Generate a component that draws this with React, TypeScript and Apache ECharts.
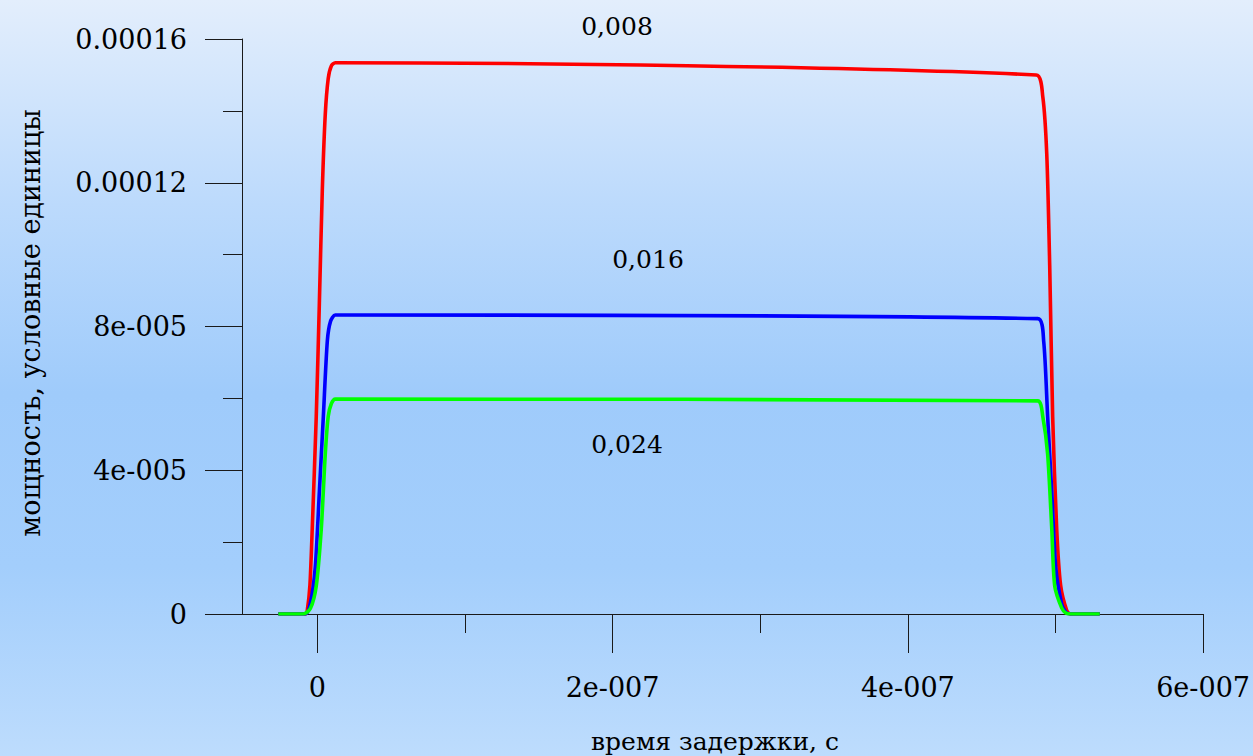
import React, { useEffect, useRef } from "react";
import * as echarts from "echarts";

// time, seconds
const redTime = [-2.64e-8, -8.0e-9, -6.8e-9, -5.0e-9, -3.4e-9, -0.7e-9, 1.4e-9, 3.4e-9, 5.4e-9, 7.4e-9, 9.5e-9, 1.22e-8, 4.87e-7, 4.914e-7, 4.941e-7, 4.961e-7, 4.981e-7, 5.008e-7, 5.035e-7, 5.076e-7, 5.1e-7, 5.3e-7];
const redPower = [0, 0, 0.1e-5, 0.8e-5, 2.4e-5, 5.5e-5, 8.65e-5, 11.8e-5, 13.9e-5, 14.9e-5, 15.25e-5, 15.34e-5, 15.0e-5, 14.4e-5, 12.8e-5, 9.7e-5, 5.5e-5, 2.4e-5, 0.8e-5, 0.1e-5, 0, 0];

const blueTime = [-2.64e-8, -8.0e-9, -4.7e-9, -1.4e-9, 1.4e-9, 4.1e-9, 6.8e-9, 9.0e-9, 1.22e-8, 4.88e-7, 4.92e-7, 4.947e-7, 4.975e-7, 5.002e-7, 5.042e-7, 5.07e-7, 5.1e-7, 5.3e-7];
const bluePower = [0, 0, 0.3e-5, 1.3e-5, 3.4e-5, 5.5e-5, 7.6e-5, 8.15e-5, 8.32e-5, 8.22e-5, 7.6e-5, 5.5e-5, 3.4e-5, 1.3e-5, 0.28e-5, 0.05e-5, 0, 0];

const greenTime = [-2.64e-8, -9.5e-9, -4.7e-9, -0.7e-9, 2.7e-9, 5.4e-9, 7.4e-9, 9.5e-9, 1.22e-8, 4.88e-7, 4.914e-7, 4.947e-7, 4.975e-7, 4.995e-7, 5.042e-7, 5.07e-7, 5.1e-7, 5.3e-7];
const greenPower = [0, 0, 0.15e-5, 0.78e-5, 2.37e-5, 4.45e-5, 5.5e-5, 5.85e-5, 5.98e-5, 5.93e-5, 5.5e-5, 4.45e-5, 2.37e-5, 0.78e-5, 0.17e-5, 0.03e-5, 0, 0];

const xMajorTicks = [0, 2e-7, 4e-7, 6e-7];
const xMajorLabels = ["0", "2e-007", "4e-007", "6e-007"];
const xMinorTicks = [1e-7, 3e-7, 5e-7];
const yTickLabels = ["0", "4e-005", "8e-005", "0.00012", "0.00016"];

const seriesNames = ["0,008", "0,016", "0,024"];
const xTitle = "время задержки, с";
const yTitle = "мощность, условные единицы";

const FONT = "DejaVu Serif";
const FS = 27;

function pairs(t: number[], v: number[]) {
  return t.map((x, i) => [x, v[i]]);
}

function label(text: string, x: number, y: number, size: number, rotation = 0) {
  return {
    type: "text",
    x,
    y,
    rotation,
    style: { text, fontFamily: FONT, fontSize: size, fill: "#000", align: "center", verticalAlign: "middle" },
  };
}

export default function App() {
  const ref = useRef<HTMLDivElement>(null);
  useEffect(() => {
    document.body.style.margin = "0";
    const chart = echarts.init(ref.current!, null, { renderer: "svg" });
    const axisColor = "#1a1a1a";
    chart.setOption({
      animation: false,
      textStyle: { fontFamily: FONT },
      backgroundColor: new echarts.graphic.LinearGradient(0, 0, 0, 1, [
        { offset: 0, color: "#e3eefc" },
        { offset: 0.27, color: "#bcdafc" },
        { offset: 0.52, color: "#9fcbfb" },
        { offset: 0.75, color: "#a3cefc" },
        { offset: 1, color: "#bddcfd" },
      ]),
      grid: { left: 242, top: 39, right: 48, bottom: 142, containLabel: false },
      xAxis: [
        {
          type: "value",
          min: -5.1e-8,
          max: 6e-7,
          axisLine: { show: true, onZero: false, lineStyle: { color: axisColor, width: 1 } },
          axisTick: { show: true, length: 39, customValues: xMajorTicks, lineStyle: { color: axisColor } },
          axisLabel: {
            show: true,
            customValues: xMajorTicks,
            margin: 60,
            color: "#000",
            fontFamily: FONT,
            fontSize: FS,
            formatter: (v: number) => {
              const i = xMajorTicks.findIndex((t) => Math.abs(t - v) < 1e-12);
              return i >= 0 ? xMajorLabels[i] : "";
            },
          },
          splitLine: { show: false },
        },
        {
          type: "value",
          min: -5.1e-8,
          max: 6e-7,
          position: "bottom",
          axisLine: { show: false, onZero: false },
          axisTick: { show: true, length: 19, customValues: xMinorTicks, lineStyle: { color: axisColor } },
          axisLabel: { show: false },
          splitLine: { show: false },
        },
      ],
      yAxis: {
        type: "value",
        min: 0,
        max: 1.6e-4,
        interval: 4e-5,
        axisLine: { show: true, onZero: false, lineStyle: { color: axisColor, width: 1 } },
        axisTick: { show: true, length: 37, lineStyle: { color: axisColor } },
        minorTick: { show: true, splitNumber: 2, length: 19, lineStyle: { color: axisColor } },
        axisLabel: {
          margin: 55,
          color: "#000",
          fontFamily: FONT,
          fontSize: FS,
          formatter: (v: number) => yTickLabels[Math.round(v / 4e-5)] ?? "",
        },
        splitLine: { show: false },
        minorSplitLine: { show: false },
      },
      series: [
        { name: seriesNames[0], type: "line", data: pairs(redTime, redPower), showSymbol: false, smooth: 0.25, lineStyle: { color: "#ff0000", width: 3.6 }, itemStyle: { color: "#ff0000" } },
        { name: seriesNames[1], type: "line", data: pairs(blueTime, bluePower), showSymbol: false, smooth: 0.25, lineStyle: { color: "#0000ff", width: 3.6 }, itemStyle: { color: "#0000ff" } },
        { name: seriesNames[2], type: "line", data: pairs(greenTime, greenPower), showSymbol: false, smooth: 0.25, lineStyle: { color: "#00ff00", width: 3.6 }, itemStyle: { color: "#00ff00" } },
      ],
      graphic: [
        label(seriesNames[0], 617, 26, 25),
        label(seriesNames[1], 648, 259, 25),
        label(seriesNames[2], 627, 444, 25),
        label(xTitle, 715, 741, 25),
        label(yTitle, 30, 323, FS, Math.PI / 2),
      ],
    });
    return () => chart.dispose();
  }, []);
  return <div ref={ref} style={{ position: "fixed", left: 0, top: 0, width: 1253, height: 756 }} />;
}
